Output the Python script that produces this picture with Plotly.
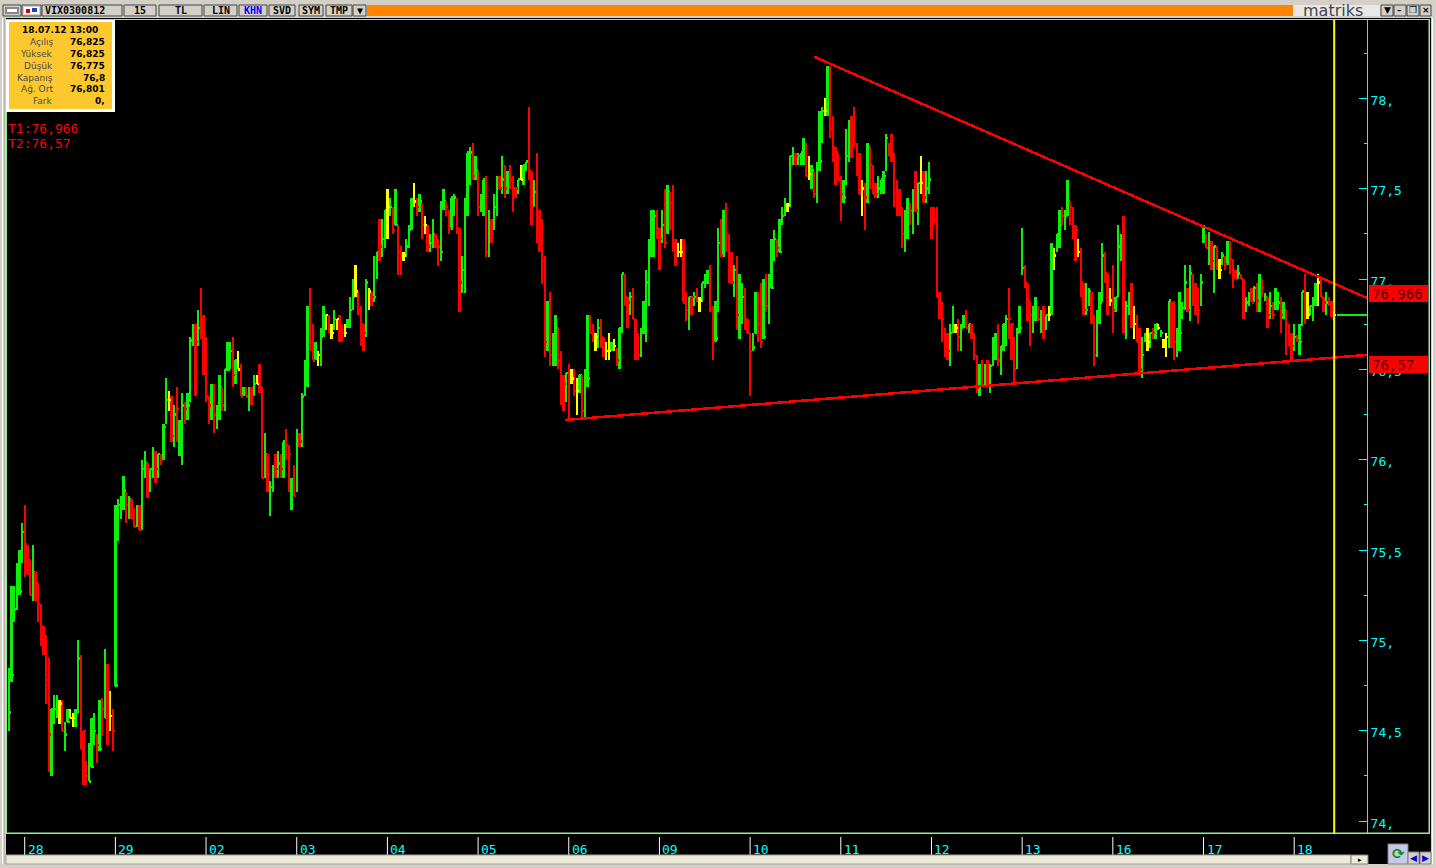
import plotly.graph_objects as go

highs = [
74.85,75.30,75.30,75.43,75.50,75.65,75.75,75.53,75.45,75.53,
75.38,75.32,75.20,75.08,75.03,74.90,74.62,74.70,74.70,74.67,
74.67,74.55,74.62,74.62,74.60,74.62,75.00,74.92,74.50,74.33,
74.43,74.57,74.60,74.48,74.67,74.68,74.95,74.87,74.72,74.62,
75.75,75.78,75.80,75.91,75.82,75.80,75.78,75.73,75.75,75.75,
76.00,76.05,75.98,75.95,76.07,76.05,76.03,76.03,76.20,76.45,
76.38,76.35,76.30,76.40,76.22,76.37,76.32,76.37,76.68,76.75,
76.75,76.83,76.95,76.80,76.68,76.35,76.42,76.42,76.30,76.47,
76.40,76.50,76.65,76.65,76.68,76.55,76.60,76.53,76.40,76.40,
76.40,76.40,76.47,76.47,76.53,76.40,76.15,76.03,75.88,75.97,
76.03,76.05,76.03,76.10,76.17,76.08,75.90,75.97,76.17,76.15,
76.37,76.55,76.85,76.95,76.75,76.65,76.60,76.73,76.85,76.80,
76.80,76.75,76.83,76.78,76.80,76.75,76.75,76.78,76.90,77.00,
77.08,76.93,76.85,76.75,77.00,76.95,76.93,77.13,77.15,77.33,
77.33,77.38,77.50,77.45,77.40,77.50,77.30,77.18,77.15,77.22,
77.30,77.45,77.53,77.45,77.47,77.42,77.35,77.30,77.25,77.33,
77.25,77.22,77.43,77.50,77.43,77.38,77.45,77.47,77.45,77.28,
77.13,77.45,77.70,77.73,77.75,77.68,77.60,77.47,77.55,77.57,
77.38,77.33,77.47,77.57,77.57,77.68,77.63,77.60,77.63,77.57,
77.50,77.55,77.63,77.63,77.65,77.95,77.60,77.55,77.70,77.38,
77.33,77.13,76.88,76.93,76.70,76.80,76.73,76.60,76.47,76.48,
76.53,76.50,76.50,76.45,76.47,76.47,76.50,76.80,76.80,76.75,
76.70,76.78,76.78,76.68,76.65,76.70,76.65,76.67,76.62,76.73,
77.03,77.03,76.90,76.93,76.95,76.78,76.70,76.73,76.88,77.05,
77.22,77.38,77.38,77.38,77.28,77.38,77.50,77.52,77.48,77.52,
77.22,77.20,77.22,77.22,76.93,76.90,76.90,76.93,76.95,76.90,
76.98,77.03,77.05,77.08,76.85,76.88,77.28,77.33,77.38,77.42,
77.25,77.15,77.08,77.13,77.03,76.98,76.95,76.78,76.70,76.70,
76.93,76.93,76.98,77.00,77.03,77.03,77.22,77.27,77.22,77.33,
77.40,77.45,77.42,77.68,77.73,77.70,77.70,77.70,77.78,77.75,
77.68,77.63,77.60,77.65,77.93,77.95,78.00,78.18,78.18,77.90,
77.73,77.70,77.57,77.55,77.83,77.88,77.90,77.95,77.75,77.70,
77.55,77.53,77.75,77.73,77.63,77.53,77.57,77.55,77.60,77.80,
77.75,77.80,77.70,77.55,77.50,77.40,77.38,77.45,77.42,77.50,
77.60,77.53,77.68,77.60,77.60,77.65,77.40,77.40,77.40,76.93,
76.87,76.73,76.70,76.75,76.85,76.75,76.78,76.75,76.80,76.83,
76.75,76.75,76.70,76.58,76.53,76.55,76.53,76.55,76.53,76.68,
76.70,76.75,76.63,76.75,76.80,76.95,76.75,76.68,76.73,76.85,
77.28,77.08,76.98,76.88,76.85,76.90,76.85,76.83,76.85,76.80,
76.85,77.20,77.17,77.25,77.38,77.40,77.38,77.55,77.43,77.40,
77.30,77.22,77.17,76.98,76.98,76.95,76.93,76.80,76.83,76.93,
77.20,77.15,77.03,76.95,77.08,76.90,77.30,77.25,77.35,76.88,
76.93,76.98,76.85,76.80,76.73,76.68,76.70,76.73,76.70,76.73,
76.75,76.75,76.72,76.67,76.70,76.88,76.87,76.88,76.73,76.93,
76.87,77.08,76.95,77.08,77.03,76.98,76.95,77.03,77.30,77.25,
77.26,77.21,77.18,77.18,77.11,77.15,77.13,77.21,77.21,77.11,
77.05,77.08,77.03,77.00,76.90,76.93,76.95,76.96,76.98,77.03,
77.00,76.92,76.90,76.93,76.87,76.95,76.93,76.90,76.87,76.83,
76.75,76.70,76.75,76.69,76.75,76.93,77.03,76.93,76.85,76.90,
76.98,77.03,77.00,76.90,76.93,76.90,76.88,76.825]

lows = [
74.50,74.77,75.10,75.17,75.25,75.43,75.35,75.37,75.25,75.22,
75.22,75.10,74.97,74.92,74.65,74.27,74.25,74.54,74.57,74.54,
74.50,74.39,74.55,74.57,74.52,74.52,74.60,74.40,74.20,74.20,
74.22,74.30,74.42,74.32,74.39,74.47,74.57,74.42,74.50,74.39,
74.75,75.55,75.67,75.72,75.65,75.67,75.67,75.63,75.63,75.61,
75.61,75.90,75.79,75.82,75.90,75.87,75.90,75.97,76.00,76.20,
76.27,76.10,76.07,76.10,76.02,75.97,76.20,76.22,76.32,76.63,
76.35,76.63,76.67,76.47,76.32,76.20,76.22,76.15,76.17,76.22,
76.27,76.27,76.50,76.50,76.40,76.42,76.50,76.35,76.35,76.35,
76.27,76.30,76.35,76.42,76.37,75.90,75.90,75.82,75.69,75.82,
75.90,75.90,75.90,75.90,76.00,75.82,75.72,75.80,75.82,76.07,
76.07,76.35,76.40,76.60,76.55,76.55,76.52,76.52,76.68,76.72,
76.70,76.67,76.72,76.72,76.65,76.65,76.68,76.73,76.73,76.83,
76.90,76.80,76.63,76.60,76.68,76.83,76.85,76.87,77.00,77.10,
77.12,77.17,77.22,77.35,77.25,77.30,77.02,77.02,77.10,77.12,
77.17,77.27,77.40,77.35,77.37,77.22,77.25,77.15,77.15,77.17,
77.17,77.07,77.10,77.38,77.35,77.25,77.27,77.35,77.25,76.82,
76.92,76.92,77.35,77.52,77.55,77.55,77.35,77.37,77.35,77.12,
77.12,77.20,77.27,77.35,77.50,77.47,77.45,77.47,77.50,77.37,
77.45,77.47,77.55,77.52,77.60,77.55,77.30,77.40,77.20,77.15,
76.97,76.57,76.60,76.52,76.52,76.52,76.50,76.30,76.27,76.32,
76.22,76.42,76.35,76.25,76.37,76.22,76.22,76.40,76.70,76.65,
76.60,76.62,76.62,76.57,76.55,76.55,76.60,76.60,76.52,76.50,
76.70,76.85,76.73,76.80,76.78,76.55,76.55,76.57,76.70,76.65,
76.85,77.12,77.12,77.22,77.05,77.20,77.17,77.25,77.27,77.15,
77.07,77.12,77.12,76.87,76.77,76.72,76.80,76.85,76.87,76.82,
76.87,76.95,76.97,76.82,76.55,76.65,76.82,77.12,77.12,77.15,
76.98,76.98,76.90,76.72,76.67,76.75,76.72,76.70,76.35,76.60,
76.70,76.65,76.62,76.67,76.82,76.75,76.95,77.10,77.12,77.15,
77.30,77.35,77.37,77.40,77.63,77.63,77.63,77.63,77.63,77.57,
77.55,77.50,77.45,77.42,77.60,77.75,77.90,77.90,77.78,77.65,
77.52,77.55,77.32,77.42,77.52,77.65,77.67,77.73,77.57,77.47,
77.35,77.27,77.42,77.50,77.47,77.45,77.45,77.47,77.47,77.60,
77.68,77.65,77.40,77.35,77.35,77.17,77.15,77.22,77.30,77.25,
77.37,77.30,77.47,77.42,77.42,77.47,77.22,77.30,76.90,76.78,
76.65,76.57,76.55,76.52,76.70,76.70,76.60,76.60,76.73,76.73,
76.70,76.67,76.55,76.37,76.35,76.40,76.40,76.40,76.37,76.52,
76.55,76.52,76.47,76.60,76.63,76.67,76.55,76.42,76.50,76.70,
77.02,76.95,76.77,76.63,76.70,76.77,76.77,76.70,76.67,76.72,
76.77,76.80,77.05,77.15,77.17,77.30,77.27,77.35,77.30,77.22,
77.10,77.12,76.90,76.80,76.80,76.85,76.75,76.52,76.57,76.75,
76.87,76.98,76.80,76.85,76.70,76.82,76.90,77.10,76.70,76.67,
76.80,76.73,76.67,76.65,76.48,76.45,76.65,76.60,76.62,76.67,
76.67,76.72,76.68,76.62,76.57,76.62,76.62,76.55,76.57,76.60,
76.78,76.83,76.82,76.77,76.85,76.80,76.75,76.85,77.20,77.17,
77.08,77.05,76.92,77.05,77.00,77.08,77.05,77.08,77.03,76.95,
77.00,77.00,77.00,76.78,76.82,76.85,76.87,76.87,76.82,76.82,
76.90,76.88,76.73,76.78,76.78,76.83,76.83,76.70,76.78,76.58,
76.63,76.55,76.60,76.65,76.58,76.74,76.75,76.78,76.80,76.77,
76.85,76.85,76.90,76.82,76.80,76.85,76.79,76.775]

closes = [
74.60,74.81,75.17,75.27,75.27,75.60,75.53,75.37,75.25,75.38,
75.32,75.20,75.08,75.03,74.78,74.48,74.62,74.62,74.65,74.65,
74.50,74.48,74.55,74.57,74.57,74.60,74.90,74.40,74.50,74.25,
74.22,74.30,74.50,74.42,74.40,74.62,74.57,74.58,74.58,74.50,
74.75,75.75,75.79,75.83,75.75,75.78,75.70,75.63,75.70,75.61,
75.95,75.98,75.95,75.95,75.98,75.95,76.03,76.00,76.18,76.33,
76.33,76.13,76.25,76.28,76.13,76.30,76.28,76.30,76.66,76.73,
76.65,76.73,76.70,76.70,76.35,76.30,76.35,76.25,76.27,76.40,
76.30,76.50,76.50,76.60,76.47,76.55,76.50,76.35,76.37,76.35,
76.37,76.35,76.42,76.42,76.40,75.90,76.03,75.92,75.85,75.95,
75.95,75.98,75.95,76.10,76.08,76.03,75.85,75.80,76.13,76.10,
76.35,76.45,76.84,76.65,76.55,76.57,76.58,76.68,76.80,76.80,
76.73,76.70,76.78,76.78,76.73,76.70,76.70,76.74,76.83,76.90,
76.93,76.83,76.75,76.70,76.98,76.93,76.90,76.90,77.15,77.18,
77.22,77.38,77.40,77.40,77.27,77.30,77.15,77.13,77.13,77.18,
77.27,77.43,77.43,77.40,77.43,77.30,77.30,77.18,77.20,77.25,
77.18,77.18,77.15,77.43,77.40,77.28,77.45,77.45,77.28,76.98,
77.05,77.40,77.70,77.70,77.57,77.60,77.40,77.43,77.55,77.15,
77.30,77.25,77.40,77.53,77.50,77.55,77.50,77.57,77.55,77.50,
77.50,77.55,77.55,77.63,77.65,77.60,77.40,77.48,77.25,77.23,
77.10,76.65,76.73,76.58,76.60,76.73,76.55,76.42,76.42,76.48,
76.45,76.45,76.38,76.38,76.47,76.27,76.45,76.45,76.70,76.70,
76.68,76.73,76.68,76.62,76.60,76.60,76.63,76.63,76.55,76.73,
77.03,76.90,76.87,76.90,76.78,76.58,76.58,76.70,76.70,76.98,
77.18,77.37,77.35,77.28,77.22,77.30,77.20,77.48,77.42,77.18,
77.18,77.15,77.15,76.87,76.83,76.90,76.90,76.90,76.88,76.88,
76.98,77.00,77.03,76.83,76.65,76.67,77.20,77.13,77.30,77.25,
77.10,76.98,77.05,76.80,76.80,76.90,76.78,76.70,76.60,76.62,
76.70,76.75,76.65,76.68,76.85,76.98,76.95,77.22,77.17,77.15,
77.35,77.41,77.41,77.68,77.68,77.68,77.68,77.70,77.68,77.57,
77.58,77.60,77.47,77.63,77.65,77.93,77.93,78.10,77.83,77.73,
77.70,77.55,77.47,77.45,77.68,77.85,77.83,77.75,77.65,77.47,
77.50,77.45,77.73,77.63,77.47,77.47,77.50,77.55,77.57,77.78,
77.68,77.70,77.47,77.47,77.40,77.25,77.28,77.33,77.38,77.45,
77.38,77.53,77.53,77.45,77.50,77.55,77.33,77.33,76.90,76.87,
76.78,76.65,76.60,76.70,76.73,76.73,76.68,76.73,76.75,76.73,
76.75,76.70,76.58,76.40,76.48,76.41,76.50,76.41,76.52,76.63,
76.63,76.55,76.63,76.75,76.78,76.78,76.75,76.50,76.70,76.73,
77.06,76.98,76.88,76.80,76.80,76.80,76.78,76.80,76.80,76.80,
76.80,77.12,77.13,77.25,77.30,77.35,77.35,77.43,77.40,77.27,
77.27,77.15,76.98,76.83,76.83,76.93,76.80,76.58,76.77,76.87,
77.13,77.03,76.87,76.88,76.83,76.90,77.18,77.20,77.17,76.85,
76.90,76.75,76.75,76.65,76.50,76.58,76.67,76.65,76.70,76.70,
76.75,76.73,76.70,76.65,76.68,76.88,76.85,76.65,76.70,76.70,
76.84,76.98,76.83,77.03,76.90,76.87,76.83,76.98,77.21,77.17,
77.17,77.10,77.18,77.07,77.05,77.13,77.08,77.14,77.11,77.05,
77.00,77.03,77.00,76.90,76.87,76.90,76.87,76.95,76.88,76.98,
76.95,76.90,76.80,76.85,76.80,76.87,76.87,76.80,76.83,76.75,
76.63,76.63,76.68,76.66,76.65,76.93,76.92,76.80,76.85,76.87,
76.90,76.98,76.90,76.87,76.87,76.87,76.80,76.80]

# G = closed up, R = closed down, Y = unchanged
states = (
"GGGGGGRRRG" "RRRRRRGGGY" "RGGYYGGRRR" "GGGRGRGRYR" "GGGGRGRRGR"
"GGRGGRGRGG" "YRGRGGRGGG" "RGRRRRGRGG" "RGGGRGYRGR" "GRGYRRGRGG"
"RGRGRRGRGR" "GGGRRGYGGY" "RYGYRRYGGG" "YRRRGYRGGR" "GGYGRGRRYG"
"GGYRGRYRGG" "RRGGRRGGRR" "GGGGRGRGGR" "GRGGRGRGRR" "RGYGGRRGRR"
"RRGRGGRRRG" "RYRYGRGGRR" "YGRRYYGYRG" "GRRGRRRGGG" "GGGRRGRGRR"
"RYYRRGRGRY" "GGGRRGGRGR" "RRGRGGRRRG" "GRRGRGGGRG" "GGYGGRGGGR"
"YGRGGGYGRR" "RRRGGGRRRR" "YRGRRRGGGG" "RRRRRRGGRG" "RGYRGGRRRR"
"RRRGGYRGGR" "GRRRGRGRGG" "GRGGGRRRGG" "GRRRGGRGRG" "YGYGGRGGRR"
"RYRRGGRRGG" "GRRYRGGGRG" "GRYRRGGYGR" "GYGYYGRRGG" "GGRGRRRGGR"
"GRGRYGRGRR" "RGRRGGRGRG" "RGRGRGGRGR" "RRGRGGRYGG" "GYRRGRRY"
)

day_labels = ["28","29","02","03","04","05","06","09","10","11","12","13","16","17","18"]
day_first_bar = [6,40,74,108,142,176,210,244,278,312,346,380,414,448,482]
y_ticks = [74,74.5,75,75.5,76,76.5,77,77.5,78]
y_tick_text = ["74,","74,5","75,","75,5","76,","76,5","77,","77,5","78,"]
y_minor = [74.25,74.75,75.25,75.75,76.25,76.75,77.25,77.75,78.25]

t1_bars = [302,509.3]
t1_prices = [78.23,76.895]
t2_bars = [208.6,509.3]
t2_prices = [76.22,76.58]
last_bars = [498,509.3]
last_prices = [76.80,76.80]
cursor_bar = 497

info_labels = ["Açılış","Yüksek","Düşük","Kapanış","Ağ. Ort","Fark"]
info_values = ["76,825","76,825","76,775","76,8","76,801","0,"]

assert len(highs)==len(lows)==len(closes)==len(states), (len(highs),len(lows),len(closes),len(states))

GREEN="#0CF00C"; RED="#FF0000"; YELLOW="#FFFF00"; CYAN="#00FFFF"; GREY="#D4D0C8"; BORDER="#90EE90"
L,R,T,B = 7,1367,19,833
PW,PH = R-L,B-T
fx=lambda p:(p-L)/PW
fy=lambda p:(B-p)/PH

fig=go.Figure()
for code,col,name in (("G",GREEN,"Yükselen"),("R",RED,"Düşen"),("Y",YELLOW,"Değişmeyen")):
    xs=[];ys=[]
    for i,s in enumerate(states):
        if s!=code: continue
        xs+=[i,i,None,i,i+0.8,None]
        ys+=[lows[i],highs[i],None,closes[i],closes[i],None]
    fig.add_trace(go.Scatter(x=xs,y=ys,mode="lines",name=name,line=dict(color=col,width=2.4),connectgaps=False))
fig.add_trace(go.Scatter(x=last_bars,y=last_prices,mode="lines",name="Son",line=dict(color=GREEN,width=2)))
fig.add_trace(go.Scatter(x=t1_bars,y=t1_prices,mode="lines",name="T1",line=dict(color=RED,width=2.5)))
fig.add_trace(go.Scatter(x=t2_bars,y=t2_prices,mode="lines",name="T2",line=dict(color=RED,width=2.5)))

shapes=[];ann=[]
def rect(x0,y0,x1,y1,fill,line=None,lw=1,layer="above"):
    shapes.append(dict(type="rect",xref="paper",yref="paper",x0=fx(x0),x1=fx(x1),y0=fy(y1),y1=fy(y0),
                       fillcolor=fill,line=dict(color=line or fill,width=lw if line else 0),layer=layer))
def text(x,y,s,size=10,color="#000",anchor="left",bold=False,fam="DejaVu Sans"):
    ann.append(dict(xref="paper",yref="paper",x=fx(x),y=fy(y),text=f"<b>{s}</b>" if bold else s,showarrow=False,
                    xanchor=anchor,yanchor="middle",font=dict(size=size,color=color,family=fam),
                    borderpad=0,borderwidth=0))

# window frame
rect(0,0,1436,18,GREY)
rect(0,18,6,868,GREY); rect(2,18,3,864,"#FFFFFF"); rect(4,18,5,864,"#B8B4AC")
rect(1431,18,1436,868,GREY); rect(1432,18,1433,864,"#FFFFFF")
rect(0,864,1436,868,GREY)
rect(6,19,1430,20,BORDER); rect(6,19,7,834,BORDER); rect(1428.5,19,1430,834,BORDER); rect(6,832.5,1430,834,BORDER)

# toolbar
btn=[(3,21,""),(22,41,""),(42,122,"VIX0300812"),(124,156,"15"),(159,202,"TL"),(204,237,"LIN"),(239,267,"KHN"),
     (269,295,"SVD"),(299,323,"SYM"),(326,352,"TMP"),(353,366,"▼")]
for a,b,t in btn:
    rect(a,5,b,16,GREY,"#444444",1)
    if t=="VIX0300812":
        text(45,11,t,size=10,color="#000",bold=True,fam="DejaVu Sans Mono")
    elif t:
        text((a+b)/2,11,t,size=10,color="#0000FF" if t=="KHN" else "#000",anchor="center",bold=True,fam="DejaVu Sans Mono")
rect(5,7,19,14,"#888888"); rect(7,9,17,12,"#FFFFFF")
rect(24,7,39,14,"#FFFFFF"); rect(26,9,30,13,"#D00000"); rect(32,8,37,12,"#2040C0")
rect(367,5,1293,16,"#FF8400")
rect(1293,5,1380,16,"#E8E8E8")
text(1333,10.5,"matriks",size=16,color="#444444",anchor="center",fam="DejaVu Sans")
for a,b,t in [(1381,1393,"▼"),(1394,1406,"–"),(1407,1419,"❐"),(1420,1431,"×")]:
    rect(a,5,b,16,GREY,"#444444",1)
    text((a+b)/2,10.5,t,size=9,color="#000",anchor="center",bold=True)

# info box
rect(6,20,115,112,"#FFFFFF")
rect(9,22,112,109,"#FDC82D")
text(60,29.5,"18.07.12 13:00",size=9,color="#000",anchor="center",bold=True)
for k,(a,b) in enumerate(zip(info_labels,info_values)):
    yy=41.5+k*12
    text(52.5,yy,a,size=9,color="#4A4A4A",anchor="right")
    text(104.5,yy,b,size=9,color="#000",anchor="right",bold=True)
text(8,128,"T1:76,966",size=13,color=RED,fam="DejaVu Sans Mono")
text(8,144,"T2:76,57",size=13,color=RED,fam="DejaVu Sans Mono")

# price flags
rect(1369,285,1428,302,RED); text(1372,294,"76,966",size=14,color="#5A0000",fam="DejaVu Sans Mono")
rect(1369,356,1428,373,RED); text(1372,365,"76,57",size=14,color="#5A0000",fam="DejaVu Sans Mono")

# date axis
for i,lab in zip(day_first_bar,day_labels):
    shapes.append(dict(type="line",xref="x",yref="paper",x0=i,x1=i,y0=fy(837),y1=fy(855),line=dict(color="#FFFFFF",width=1)))
    ann.append(dict(xref="x",yref="paper",x=i,y=fy(849.5),text=lab,showarrow=False,xanchor="left",yanchor="middle",xshift=1,
                    font=dict(size=13,color=CYAN,family="DejaVu Sans Mono")))

# cursor
shapes.append(dict(type="line",xref="x",yref="paper",x0=cursor_bar,x1=cursor_bar,y0=fy(834),y1=fy(19),line=dict(color=YELLOW,width=2)))
rect(1333,834,1335,835,"#0000C0")

# scrollbar and buttons
rect(6,855,1351,864,"#ECE9D8","#A0A0A0",1)
rect(1351,855,1368,864,"#ECE9D8","#808080",1); text(1359.5,859.5,"▸",size=7,color="#000",anchor="center")
rect(1388,844,1408,864,"#C8C8E8","#808080",1); text(1398,854,"⟳",size=15,color="#109010",anchor="center",bold=True)
rect(1408,852,1419,864,GREY,"#808080",1); text(1413.5,858,"◀",size=9,color="#0000E0",anchor="center")
rect(1420,852,1431,864,GREY,"#808080",1); text(1425.5,858,"▶",size=9,color="#0000E0",anchor="center")

fig.update_layout(
    width=1436,height=868,autosize=False,margin=dict(l=L,r=1436-R,t=T,b=868-B,pad=0),
    paper_bgcolor="#000",plot_bgcolor="#000",showlegend=False,hovermode=False,
    shapes=shapes,annotations=ann,
    xaxis=dict(range=[(L-8.7)/2.667,(R-8.7)/2.667],visible=False,fixedrange=True),
    yaxis=dict(range=[78-(B-98.3)/180.7,78-(T-98.3)/180.7],side="right",showgrid=False,zeroline=False,
               showline=True,linecolor=CYAN,linewidth=1,ticks="inside",ticklen=8,tickwidth=1,tickcolor=CYAN,
               tickmode="array",tickvals=y_ticks,ticktext=y_tick_text,ticklabelshift=2,
               tickfont=dict(family="DejaVu Sans Mono",size=13,color=CYAN),
               minor=dict(tickmode="array",tickvals=y_minor,ticks="inside",ticklen=3,tickwidth=1,tickcolor=CYAN),
               fixedrange=True),
)
post=("document.body.style.margin='0';document.body.style.overflow='hidden';"
      "var s=document.createElement('style');"
      "s.textContent='.scatterlayer path{shape-rendering:crispEdges}';document.head.appendChild(s);")
fig.write_html("out.html",config={"displayModeBar":False},post_script=post)
